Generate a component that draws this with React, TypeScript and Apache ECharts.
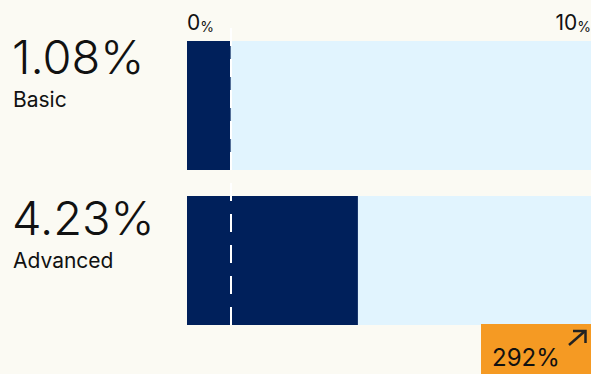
import React, { useEffect, useRef } from "react";
import * as echarts from "echarts";

const categories = ["Basic", "Advanced"];
const rates = [1.08, 4.23];
const changePct = 292;
const tickValues = [0, 10];

const NAVY = "#00205B";
const TRACK = "#E1F4FE";
const BG = "#FBFAF3";
const ORANGE = "#F59A23";
const FONT = "Inter, 'Noto Sans', sans-serif";

export default function App() {
  const ref = useRef<HTMLDivElement>(null);
  useEffect(() => {
    if (!ref.current) return;
    document.body.style.margin = "0";
    document.body.style.overflow = "hidden";
    const chart = echarts.init(ref.current, undefined, { renderer: "svg", width: 591, height: 374 });
    const bigY = [56.5, 217.5];
    const lblY = [99.5, 260];
    const graphics: any[] = [];
    categories.forEach((c, i) => {
      graphics.push({
        type: "text",
        x: 12,
        y: bigY[i],
        style: {
          text: `${rates[i].toFixed(2)}%`,
          font: `300 47px ${FONT}`,
          fill: "#111",
          verticalAlign: "middle",
          align: "left",
        },
      });
      graphics.push({
        type: "text",
        x: 13,
        y: lblY[i],
        style: {
          text: c,
          font: `400 21px ${FONT}`,
          fill: "#111",
          verticalAlign: "middle",
          align: "left",
        },
      });
    });
    graphics.push({
      type: "rect",
      shape: { x: 481, y: 324, width: 110, height: 50 },
      style: { fill: ORANGE },
      z: 10,
    });
    graphics.push({
      type: "text",
      x: 492,
      y: 357,
      z: 11,
      style: {
        text: `${changePct}%`,
        font: `400 24px ${FONT}`,
        fill: "#111",
        verticalAlign: "middle",
        align: "left",
      },
    });
    graphics.push({
      type: "line",
      z: 11,
      shape: { x1: 569, y1: 345, x2: 585, y2: 331 },
      style: { stroke: "#222", lineWidth: 2.5 },
    });
    graphics.push({
      type: "polyline",
      z: 11,
      shape: { points: [[573, 331], [585.5, 331], [585.5, 343]] },
      style: { stroke: "#222", lineWidth: 2.5, fill: "none" },
    });

    chart.setOption({
      animation: false,
      backgroundColor: BG,
      grid: { left: 187, right: 0, top: 28, bottom: 36, containLabel: false, outerBoundsMode: "none" },
      xAxis: {
        type: "value",
        position: "top",
        min: tickValues[0],
        max: tickValues[tickValues.length - 1],
        interval: tickValues[tickValues.length - 1] - tickValues[0],
        axisLine: { show: false },
        axisTick: { show: false },
        splitLine: { show: false },
        axisLabel: { show: false },
      },
      yAxis: {
        type: "category",
        data: categories,
        inverse: true,
        show: false,
      },
      series: [
        {
          type: "bar",
          data: rates,
          barWidth: 129,
          itemStyle: { color: NAVY },
          showBackground: true,
          backgroundStyle: { color: TRACK },
          markLine: {
            silent: true,
            symbol: "none",
            label: { show: false },
            lineStyle: { color: "#fff", width: 2, type: [18, 13] },
            data: [{ xAxis: rates[0] }],
          },
        },
      ],
    });

    tickValues.forEach((v, i) => {
      const px = chart.convertToPixel({ xAxisIndex: 0 }, v) as number;
      const isLast = i === tickValues.length - 1;
      graphics.push({
        type: "text",
        x: px,
        y: 23,
        style: {
          text: `{n|${v}}{p|%}`,
          align: isLast ? "right" : "left",
          verticalAlign: "middle",
          rich: {
            n: { font: `400 21px ${FONT}`, fill: "#111", verticalAlign: "bottom", lineHeight: 20 },
            p: { font: `400 14px ${FONT}`, fill: "#111", verticalAlign: "bottom", lineHeight: 20 },
          },
        },
      });
    });

    chart.setOption({ graphic: graphics });
    return () => chart.dispose();
  }, []);
  return <div ref={ref} style={{ width: 591, height: 374, position: "fixed", left: 0, top: 0 }} />;
}
